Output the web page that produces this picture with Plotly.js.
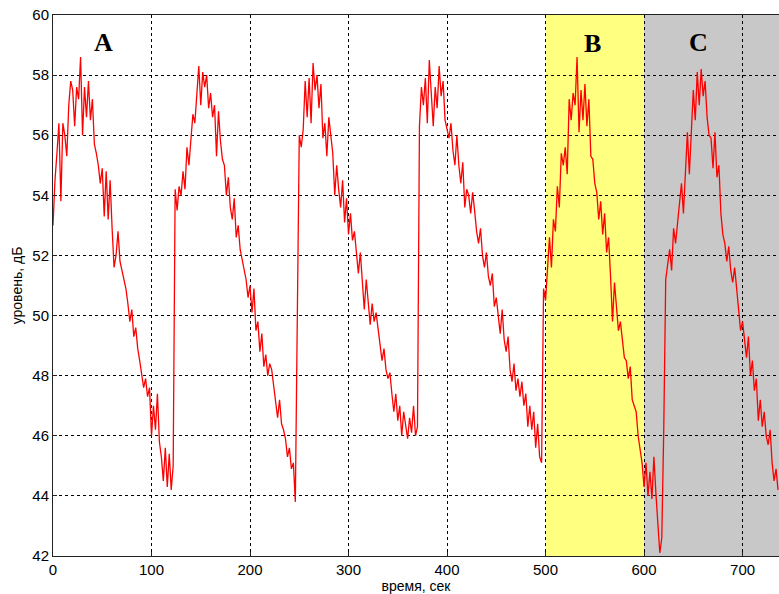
<!DOCTYPE html>
<html>
<head>
<meta charset="utf-8">
<script src="https://cdn.plot.ly/plotly-3.0.1.min.js"></script>
<style>html,body{margin:0;padding:0;background:#fff;}#chart{width:779px;height:594px;}</style>
</head>
<body>
<div id="chart"></div>
<script>
// time step (s) between samples
const timeStep = 2;
// signal level, dB, one value every 2 s starting at t = 0
const cycleA1 = [53.0,54.5,55.4,56.4,53.8,56.4,56.0,55.3,57.0,57.8,57.5,56.3,57.6,57.2,58.6,56.0,57.6,56.6,57.8,56.5,57.2,55.7,55.4,55.0,54.4,54.9,53.3,54.8,53.2,54.5,52.9,51.6,52.0,52.8,51.8,51.5,51.2,50.9,50.4,49.8,50.2,49.3,49.6,48.9,48.5,48.0,47.6,47.9,47.3,47.6,46.0,47.0,46.2,47.4,45.8,45.3,44.5,45.6,44.3,45.4,44.2,45.0];
const cycleA2 = [54.2,53.5,54.3,54.0,54.8,54.2,55.6,55.0,55.8,56.7,56.4,57.3,58.3,57.0,58.1,57.6,58.0,56.9,57.4,56.6,57.0,55.3,56.8,55.8,55.2,55.0,54.0,54.6,53.6,53.2,53.9,52.6,53.0,52.2,51.9,51.5,51.2,50.6,51.0,50.1,50.9,49.5,49.8,48.8,49.4,48.3,48.7,48.0,48.4,48.2,47.6,47.1,46.6,47.2,46.4,46.2,45.9,45.3,45.6,44.9,45.1,43.8];
const cycleA3 = [51.0,56.0,55.6,56.2,57.8,56.6,57.9,56.4,58.4,57.5,58.0,56.9,57.7,55.9,56.4,55.3,56.6,56.0,55.4,54.0,55.0,54.2,53.6,54.5,53.1,53.9,52.7,53.4,52.5,52.8,52.0,51.4,52.1,51.0,50.2,51.2,50.5,49.7,50.4,49.8,50.1,49.5,49.0,48.5,48.9,48.2,47.9,48.1,47.4,46.8,47.4,46.5,47.0,46.0,46.8,46.4,45.9,46.6,46.1,47.0,46.0,46.3];
const cycleA4 = [56.3,57.6,57.0,57.9,56.4,58.5,57.4,56.3,57.6,56.9,58.3,57.3,57.8,56.5,56.2,55.9,56.4,55.5,55.0,56.0,55.0,54.4,55.1,53.6,54.2,54.0,53.4,54.1,53.5,52.8,52.4,52.9,52.0,51.6,52.1,51.3,51.0,51.4,50.3,50.6,50.0,49.4,50.2,49.2,48.8,49.3,48.2,47.8,48.4,47.5,47.9,47.3,47.8,47.0,47.4,46.3,47.0,46.2,46.8,45.6,46.4,45.3,45.1];
const cycleB = [50.9,50.5,51.4,52.6,51.6,53.2,52.8,54.3,53.6,55.4,55.0,55.6,54.7,57.2,56.5,57.4,57.0,58.6,56.1,57.5,56.5,57.7,56.3,57.2,55.3,55.2,54.4,54.1,53.2,53.8,52.7,53.4,52.1,52.6,51.3,49.8,51.1,50.3,49.5,49.8,49.2,48.6,48.5,47.9,48.3,47.2,47.0,46.8,46.0,45.6,45.1];
const cycleC = [44.3,45.1,44.0,44.8,43.9,45.3,44.1,43.2,42.1,42.6,46.2,51.2,51.8,52.2,51.5,52.9,52.4,53.0,53.8,54.4,53.4,55.0,56.1,54.7,56.4,57.5,56.5,58.1,57.0,58.2,57.3,57.8,56.6,56.0,55.9,54.9,56.1,54.6,55.0,53.4,52.7,52.4,51.8,52.3,51.5,51.1,51.6,50.8,50.1,49.5,49.8,49.1,48.6,49.3,48.0,48.5,47.5,47.9,46.5,47.2,46.3,46.8,46.0,45.7,46.2,45.1,44.5,44.9,44.2];

// region boundaries (s) and labels
const regionB = [500, 600];
const regionC = [600, 760];
const regionLabels = ['A', 'B', 'C'];
const labelX = [51, 548, 655];
const labelY = [59.1, 59.05, 59.1];

const xTicks = [0, 100, 200, 300, 400, 500, 600, 700];
const yTicks = [42, 44, 46, 48, 50, 52, 54, 56, 58, 60];

const level = [].concat(cycleA1, cycleA2, cycleA3, cycleA4, cycleB, cycleC);
const time = level.map((_, i) => i * timeStep);

const trace = {
  x: time, y: level, type: 'scatter', mode: 'lines',
  line: {color: '#ff0000', width: 1.3, shape: 'linear'},
  hoverinfo: 'skip'
};

const layout = {
  width: 779, height: 594,
  margin: {l: 53, r: 0, t: 15, b: 38},
  paper_bgcolor: '#ffffff', plot_bgcolor: '#ffffff',
  showlegend: false,
  font: {family: 'Liberation Sans, Arial, sans-serif', color: '#000'},
  xaxis: {
    range: [0, 737], tickvals: xTicks, ticktext: xTicks.map(String),
    showgrid: true, gridcolor: '#000', gridwidth: 1, griddash: '3px,3px',
    zeroline: false, showline: true, linecolor: '#222', linewidth: 1, mirror: true,
    ticks: 'inside', ticklen: 4, tickcolor: '#222',
    tickfont: {size: 15, family: 'Liberation Sans, Arial, sans-serif'},
    title: {text: 'время, сек', font: {size: 14}, standoff: 4}
  },
  yaxis: {
    range: [42, 60], tickvals: yTicks, ticktext: yTicks.map(String),
    showgrid: true, gridcolor: '#000', gridwidth: 1, griddash: '3px,3px',
    zeroline: false, showline: true, linecolor: '#222', linewidth: 1, mirror: false,
    ticks: 'inside', ticklen: 4, tickcolor: '#222',
    tickfont: {size: 15, family: 'Liberation Sans, Arial, sans-serif'},
    title: {text: 'уровень, дБ', font: {size: 14}, standoff: 6}
  },
  shapes: [
    {type: 'rect', xref: 'x', yref: 'paper', x0: regionB[0], x1: regionB[1], y0: 0, y1: 1,
     fillcolor: '#ffff80', line: {width: 0}, layer: 'below'},
    {type: 'rect', xref: 'x', yref: 'paper', x0: regionC[0], x1: regionC[1], y0: 0, y1: 1,
     fillcolor: '#c8c8c8', line: {width: 0}, layer: 'below'}
  ],
  annotations: regionLabels.map((t, i) => ({
    x: labelX[i], y: labelY[i], xref: 'x', yref: 'y', text: '<b>' + t + '</b>',
    showarrow: false, font: {family: 'Liberation Serif, Times New Roman, serif', size: 26, color: '#000'}
  }))
};

Plotly.newPlot('chart', [trace], layout, {staticPlot: true, displayModeBar: false});
</script>
</body>
</html>
